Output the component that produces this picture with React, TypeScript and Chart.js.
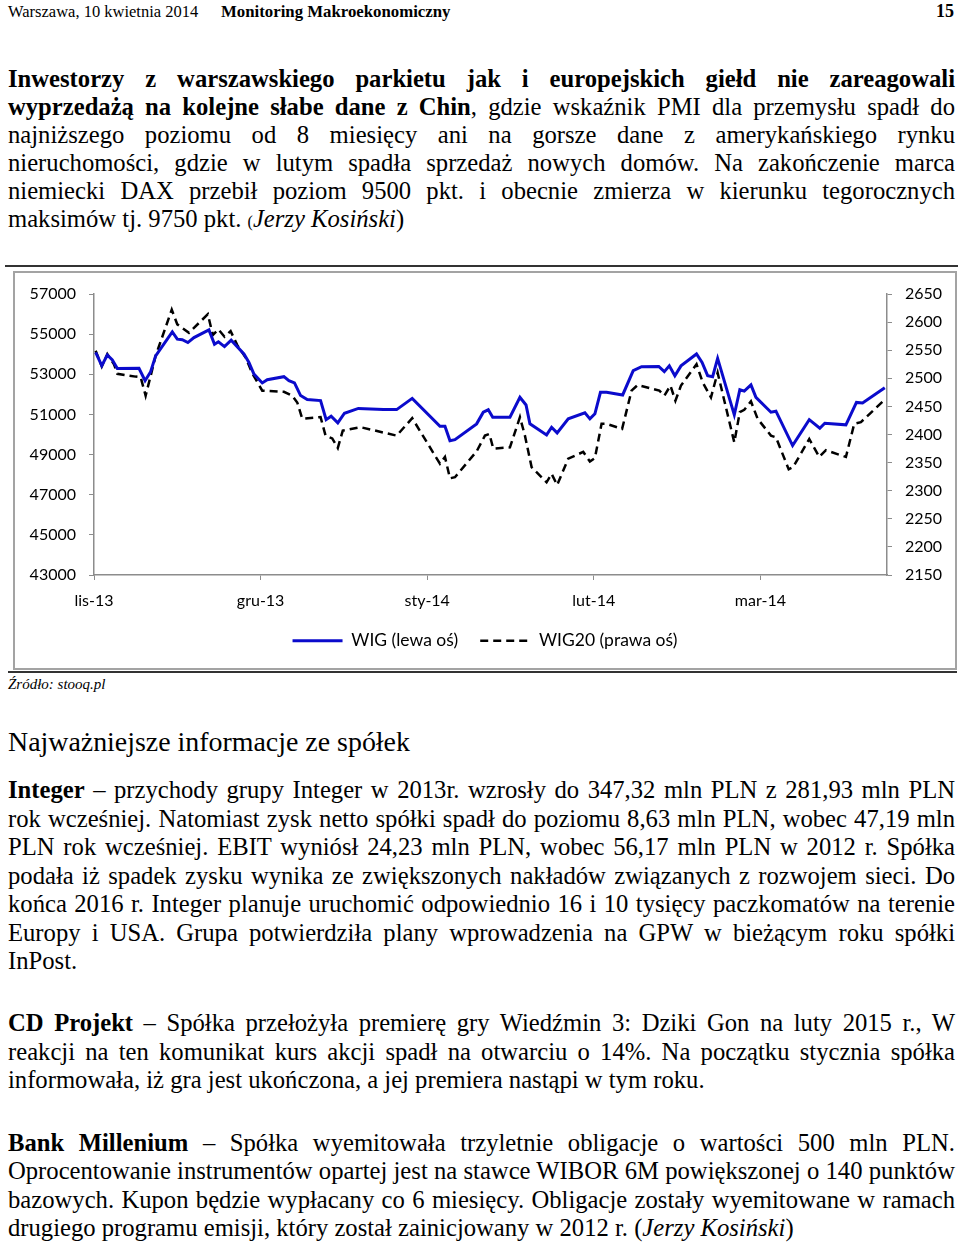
import React, { useEffect, useRef } from "react";
import { Chart, registerables } from "chart.js";

Chart.register(...registerables);

// X axis: day offsets (one unit ≈ one day), month tick labels
const monthLabels = ["lis-13", "gru-13", "sty-14", "lut-14", "mar-14"];
const monthTickDays = [0, 30, 60, 90, 120];
const xMaxDay = 142.8;

// WIG (left axis)
const wigDays = [
  0.3, 1.4, 2.4, 3.3, 4.2, 8.1, 9.2, 10.2, 11.1, 14.1,
  15.0, 15.9, 16.9, 18.0, 20.7, 21.7, 22.4, 23.5, 24.7, 27.0,
  27.9, 28.8, 30.3, 31.2, 34.2, 35.1, 36.1, 37.2, 38.4, 40.8,
  41.8, 42.7, 43.9, 45.1, 47.6, 52.1, 54.5, 57.3, 62.3, 63.2,
  64.1, 65.0, 68.9, 70.1, 71.0, 71.8, 74.9, 76.7, 77.8, 78.5,
  81.5, 82.4, 83.4, 85.4, 88.4, 89.3, 90.2, 91.2, 92.3, 95.2,
  97.1, 98.6, 101.7, 102.7, 103.6, 104.6, 105.7, 108.5, 109.5, 110.5,
  111.4, 112.3, 115.3, 116.3, 117.1, 118.3, 119.2, 121.9, 122.8, 125.8,
  128.8, 130.7, 131.6, 135.4, 137.3, 138.4, 142.4,
];
const wigValues = [
  54090, 53430, 53960, 53720, 53290, 53300, 52680, 53130, 53920, 55110,
  54750, 54720, 54580, 54830, 55210, 54500, 54620, 54380, 54700, 54010,
  53590, 53010, 52570, 52730, 52880, 52680, 52570, 51940, 51740, 51690,
  50740, 50910, 50580, 51060, 51300, 51240, 51240, 51800, 50410, 50410,
  49690, 49740, 50530, 51110, 51230, 50860, 50860, 51850, 51470, 50530,
  49980, 50360, 50080, 50780, 51080, 50780, 51030, 52100, 52100, 51970,
  53180, 53380, 53390, 53130, 53420, 52930, 53420, 54010, 53590, 52930,
  52880, 53790, 50980, 52230, 52160, 52470, 51850, 51110, 51160, 49450,
  50740, 50310, 50560, 50480, 51600, 51570, 52330,
];

// WIG20 (right axis)
const wig20Days = [
  0.3, 1.4, 2.4, 3.6, 4.2, 7.5, 8.4, 9.3, 10.5, 11.1,
  14.0, 15.0, 17.1, 20.5, 21.4, 22.4, 23.5, 24.6, 25.8, 27.3,
  28.5, 30.3, 34.2, 35.7, 36.6, 37.5, 40.8, 41.7, 42.9, 43.9,
  44.8, 48.0, 54.5, 57.3, 62.3, 63.2, 64.1, 65.0, 68.9, 70.4,
  71.2, 71.9, 74.9, 76.7, 77.6, 78.8, 81.5, 82.4, 83.4, 85.4,
  88.1, 89.3, 90.2, 91.4, 92.3, 95.1, 96.8, 97.9, 101.8, 102.7,
  103.8, 104.7, 105.7, 108.5, 109.6, 111.1, 112.3, 115.3, 116.3, 117.1,
  118.3, 119.5, 121.9, 122.8, 125.1, 125.9, 128.8, 130.6, 131.8, 135.4,
  136.9, 138.1, 142.4,
];
const wig20Values = [
  2549, 2521, 2543, 2525, 2508, 2503, 2502, 2469, 2516, 2540,
  2622, 2596, 2581, 2614, 2577, 2587, 2574, 2584, 2559, 2537,
  2509, 2478, 2476, 2469, 2457, 2428, 2431, 2398, 2393, 2376,
  2407, 2413, 2398, 2429, 2348, 2360, 2322, 2324, 2370, 2398,
  2401, 2375, 2377, 2431, 2398, 2342, 2315, 2330, 2310, 2357,
  2369, 2352, 2358, 2419, 2419, 2410, 2478, 2488, 2478, 2469,
  2487, 2460, 2487, 2525, 2493, 2466, 2510, 2386, 2440, 2444,
  2459, 2428, 2398, 2395, 2338, 2342, 2392, 2360, 2372, 2360,
  2419, 2422, 2462,
];

const leftTicks = { min: 43000, max: 57000, step: 2000 };
const rightTicks = { min: 2150, max: 2650, step: 50 };

const seriesLabels = ["WIG (lewa oś)", "WIG20 (prawa oś)"];

const CHART_FONT = { family: "Lato, 'Open Sans', sans-serif", size: 16 };
const Y_FONT = { family: "Lato, 'Open Sans', sans-serif", size: 16, lineHeight: 1 };
const LEGEND_FONT = { family: "Lato, 'Open Sans', sans-serif", size: 17.5 };
const AXIS_COLOR = "#8c8c8c";

function StockChart() {
  const ref = useRef<HTMLCanvasElement | null>(null);
  useEffect(() => {
    if (!ref.current) return;
    const chart = new Chart(ref.current, {
      type: "line",
      data: {
        datasets: [
          {
            label: seriesLabels[0],
            data: wigDays.map((d, i) => ({ x: d, y: wigValues[i] })),
            borderColor: "#0b0bcc",
            borderWidth: 3,
            pointRadius: 0,
            tension: 0,
            yAxisID: "y",
          },
          {
            label: seriesLabels[1],
            data: wig20Days.map((d, i) => ({ x: d, y: wig20Values[i] })),
            borderColor: "#000000",
            borderWidth: 2.5,
            borderDash: [8, 5],
            pointRadius: 0,
            tension: 0,
            yAxisID: "y1",
          },
        ],
      },
      options: {
        animation: false,
        responsive: true,
        maintainAspectRatio: false,
        layout: { padding: { top: 5, bottom: 8.5, left: 0, right: 0 } },
        plugins: {
          tooltip: { enabled: false },
          legend: {
            position: "bottom",
            labels: {
              usePointStyle: true,
              pointStyle: "line",
              pointStyleWidth: 50,
              padding: 22,
              color: "#000",
              font: LEGEND_FONT,
              generateLabels: (c: any) =>
                c.data.datasets.map((ds: any, i: number) => ({
                  text: ds.label,
                  fillStyle: ds.borderColor,
                  strokeStyle: ds.borderColor,
                  lineWidth: ds.borderWidth,
                  lineDash: ds.borderDash || [],
                  pointStyle: "line",
                  hidden: false,
                  datasetIndex: i,
                  fontColor: "#000",
                })),
            },
          },
        },
        scales: {
          x: {
            type: "linear",
            min: 0,
            max: xMaxDay,
            afterBuildTicks: (s: any) => {
              s.ticks = monthTickDays.map((v) => ({ value: v }));
            },
            afterFit: (s: any) => {
              s.height = 35;
            },
            ticks: {
              autoSkip: false,
              maxRotation: 0,
              padding: 11,
              color: "#000",
              font: CHART_FONT,
              callback: (v: any) => {
                const i = monthTickDays.indexOf(Number(v));
                return i >= 0 ? monthLabels[i] : "";
              },
            },
            grid: { drawOnChartArea: false, drawTicks: true, tickLength: 5, color: AXIS_COLOR },
            border: { color: AXIS_COLOR, width: 1.5 },
          },
          y: {
            position: "left",
            min: leftTicks.min,
            max: leftTicks.max,
            afterFit: (s: any) => {
              s.width = 79;
            },
            ticks: {
              stepSize: leftTicks.step,
              padding: 13,
              color: "#000",
              font: Y_FONT,
              callback: (v: any) => String(v),
            },
            grid: { drawOnChartArea: false, drawTicks: true, tickLength: 5, color: AXIS_COLOR },
            border: { color: AXIS_COLOR, width: 1.5 },
          },
          y1: {
            position: "right",
            min: rightTicks.min,
            max: rightTicks.max,
            afterFit: (s: any) => {
              s.width = 68;
            },
            ticks: {
              stepSize: rightTicks.step,
              padding: 13,
              color: "#000",
              font: Y_FONT,
              callback: (v: any) => String(v),
            },
            grid: { drawOnChartArea: false, drawTicks: true, tickLength: 5, color: AXIS_COLOR },
            border: { color: AXIS_COLOR, width: 1.5 },
          },
        },
      },
    } as any);
    return () => chart.destroy();
  }, []);
  return <canvas ref={ref} />;
}

const J: React.CSSProperties = { textAlign: "justify", textAlignLast: "justify" as any };
const L: React.CSSProperties = { textAlign: "left" };
const BODY = 24.65;

export default function App() {
  useEffect(() => {
    document.body.style.margin = "0";
    document.documentElement.style.overflow = "hidden";
    document.body.style.overflow = "hidden";
  }, []);
  return (
    <div
      style={{
        position: "relative",
        width: 960,
        height: 1245,
        overflow: "hidden",
        background: "#fff",
        color: "#000",
        fontFamily: "'Liberation Serif', 'Times New Roman', serif",
      }}
    >
      {/* header */}
      <div style={{ position: "absolute", left: 8, top: 2, fontSize: 16.5, lineHeight: "20px", whiteSpace: "nowrap" }}>
        Warszawa, 10 kwietnia 2014
      </div>
      <div style={{ position: "absolute", left: 221, top: 2, fontSize: 16.8, lineHeight: "20px", fontWeight: "bold", whiteSpace: "nowrap" }}>
        Monitoring Makroekonomiczny
      </div>
      <div style={{ position: "absolute", right: 6, top: 1, fontSize: 18, lineHeight: "20px", fontWeight: "bold" }}>15</div>

      {/* paragraph 1 */}
      <div style={{ position: "absolute", left: 8, top: 65, width: 947, fontSize: BODY, lineHeight: "28px" }}>
        <div style={J}><b>Inwestorzy z warszawskiego parkietu jak i europejskich giełd nie zareagowali</b></div>
        <div style={J}><b>wyprzedażą na kolejne słabe dane z Chin</b>, gdzie wskaźnik PMI dla przemysłu spadł do</div>
        <div style={J}>najniższego poziomu od 8 miesięcy ani na gorsze dane z amerykańskiego rynku</div>
        <div style={J}>nieruchomości, gdzie w lutym spadła sprzedaż nowych domów. Na zakończenie marca</div>
        <div style={J}>niemiecki DAX przebił poziom 9500 pkt. i obecnie zmierza w kierunku tegorocznych</div>
        <div style={L}>maksimów tj. 9750 pkt. <span style={{ fontSize: 16 }}>(</span><i>Jerzy Kosiński</i>)</div>
      </div>

      {/* chart frame */}
      <div style={{ position: "absolute", left: 5, top: 265, width: 953, height: 2, background: "#333" }} />
      <div style={{ position: "absolute", left: 13, top: 271, width: 940, height: 395, border: "2px solid #a3a3a3" }} />
      <div style={{ position: "absolute", left: 8, top: 671, width: 949, height: 2, background: "#333" }} />
      <div style={{ position: "absolute", left: 15, top: 273, width: 940, height: 395 }}>
        <StockChart />
      </div>

      <div style={{ position: "absolute", left: 8, top: 675, fontSize: 15, lineHeight: "18px", fontStyle: "italic", whiteSpace: "nowrap" }}>
        Źródło: stooq.pl
      </div>

      {/* heading */}
      <div style={{ position: "absolute", left: 8, top: 726, fontSize: 27.9, lineHeight: "32px", whiteSpace: "nowrap" }}>
        Najważniejsze informacje ze spółek
      </div>

      {/* paragraph 2 */}
      <div style={{ position: "absolute", left: 8, top: 776, width: 947, fontSize: BODY, lineHeight: "28.5px" }}>
        <div style={J}><b>Integer</b> – przychody grupy Integer w 2013r. wzrosły do 347,32 mln PLN z 281,93 mln PLN</div>
        <div style={J}>rok wcześniej. Natomiast zysk netto spółki spadł do poziomu 8,63 mln PLN, wobec 47,19 mln</div>
        <div style={J}>PLN rok wcześniej. EBIT wyniósł 24,23 mln PLN, wobec 56,17 mln PLN w 2012 r. Spółka</div>
        <div style={J}>podała iż spadek zysku wynika ze zwiększonych nakładów związanych z rozwojem sieci. Do</div>
        <div style={J}>końca 2016 r. Integer planuje uruchomić odpowiednio 16 i 10 tysięcy paczkomatów na terenie</div>
        <div style={J}>Europy i USA. Grupa potwierdziła plany wprowadzenia na GPW w bieżącym roku spółki</div>
        <div style={L}>InPost.</div>
      </div>

      {/* paragraph 3 */}
      <div style={{ position: "absolute", left: 8, top: 1009, width: 947, fontSize: BODY, lineHeight: "28.5px" }}>
        <div style={J}><b>CD Projekt</b> – Spółka przełożyła premierę gry Wiedźmin 3: Dziki Gon na luty 2015 r., W</div>
        <div style={J}>reakcji na ten komunikat kurs akcji spadł na otwarciu o 14%. Na początku stycznia spółka</div>
        <div style={L}>informowała, iż gra jest ukończona, a jej premiera nastąpi w tym roku.</div>
      </div>

      {/* paragraph 4 */}
      <div style={{ position: "absolute", left: 8, top: 1129, width: 947, fontSize: BODY, lineHeight: "28.4px" }}>
        <div style={J}><b>Bank Millenium</b> – Spółka wyemitowała trzyletnie obligacje o wartości 500 mln PLN.</div>
        <div style={J}>Oprocentowanie instrumentów opartej jest na stawce WIBOR 6M powiększonej o 140 punktów</div>
        <div style={J}>bazowych. Kupon będzie wypłacany co 6 miesięcy. Obligacje zostały wyemitowane w ramach</div>
        <div style={L}>drugiego programu emisji, który został zainicjowany w 2012 r. (<i>Jerzy Kosiński</i>)</div>
      </div>
    </div>
  );
}
